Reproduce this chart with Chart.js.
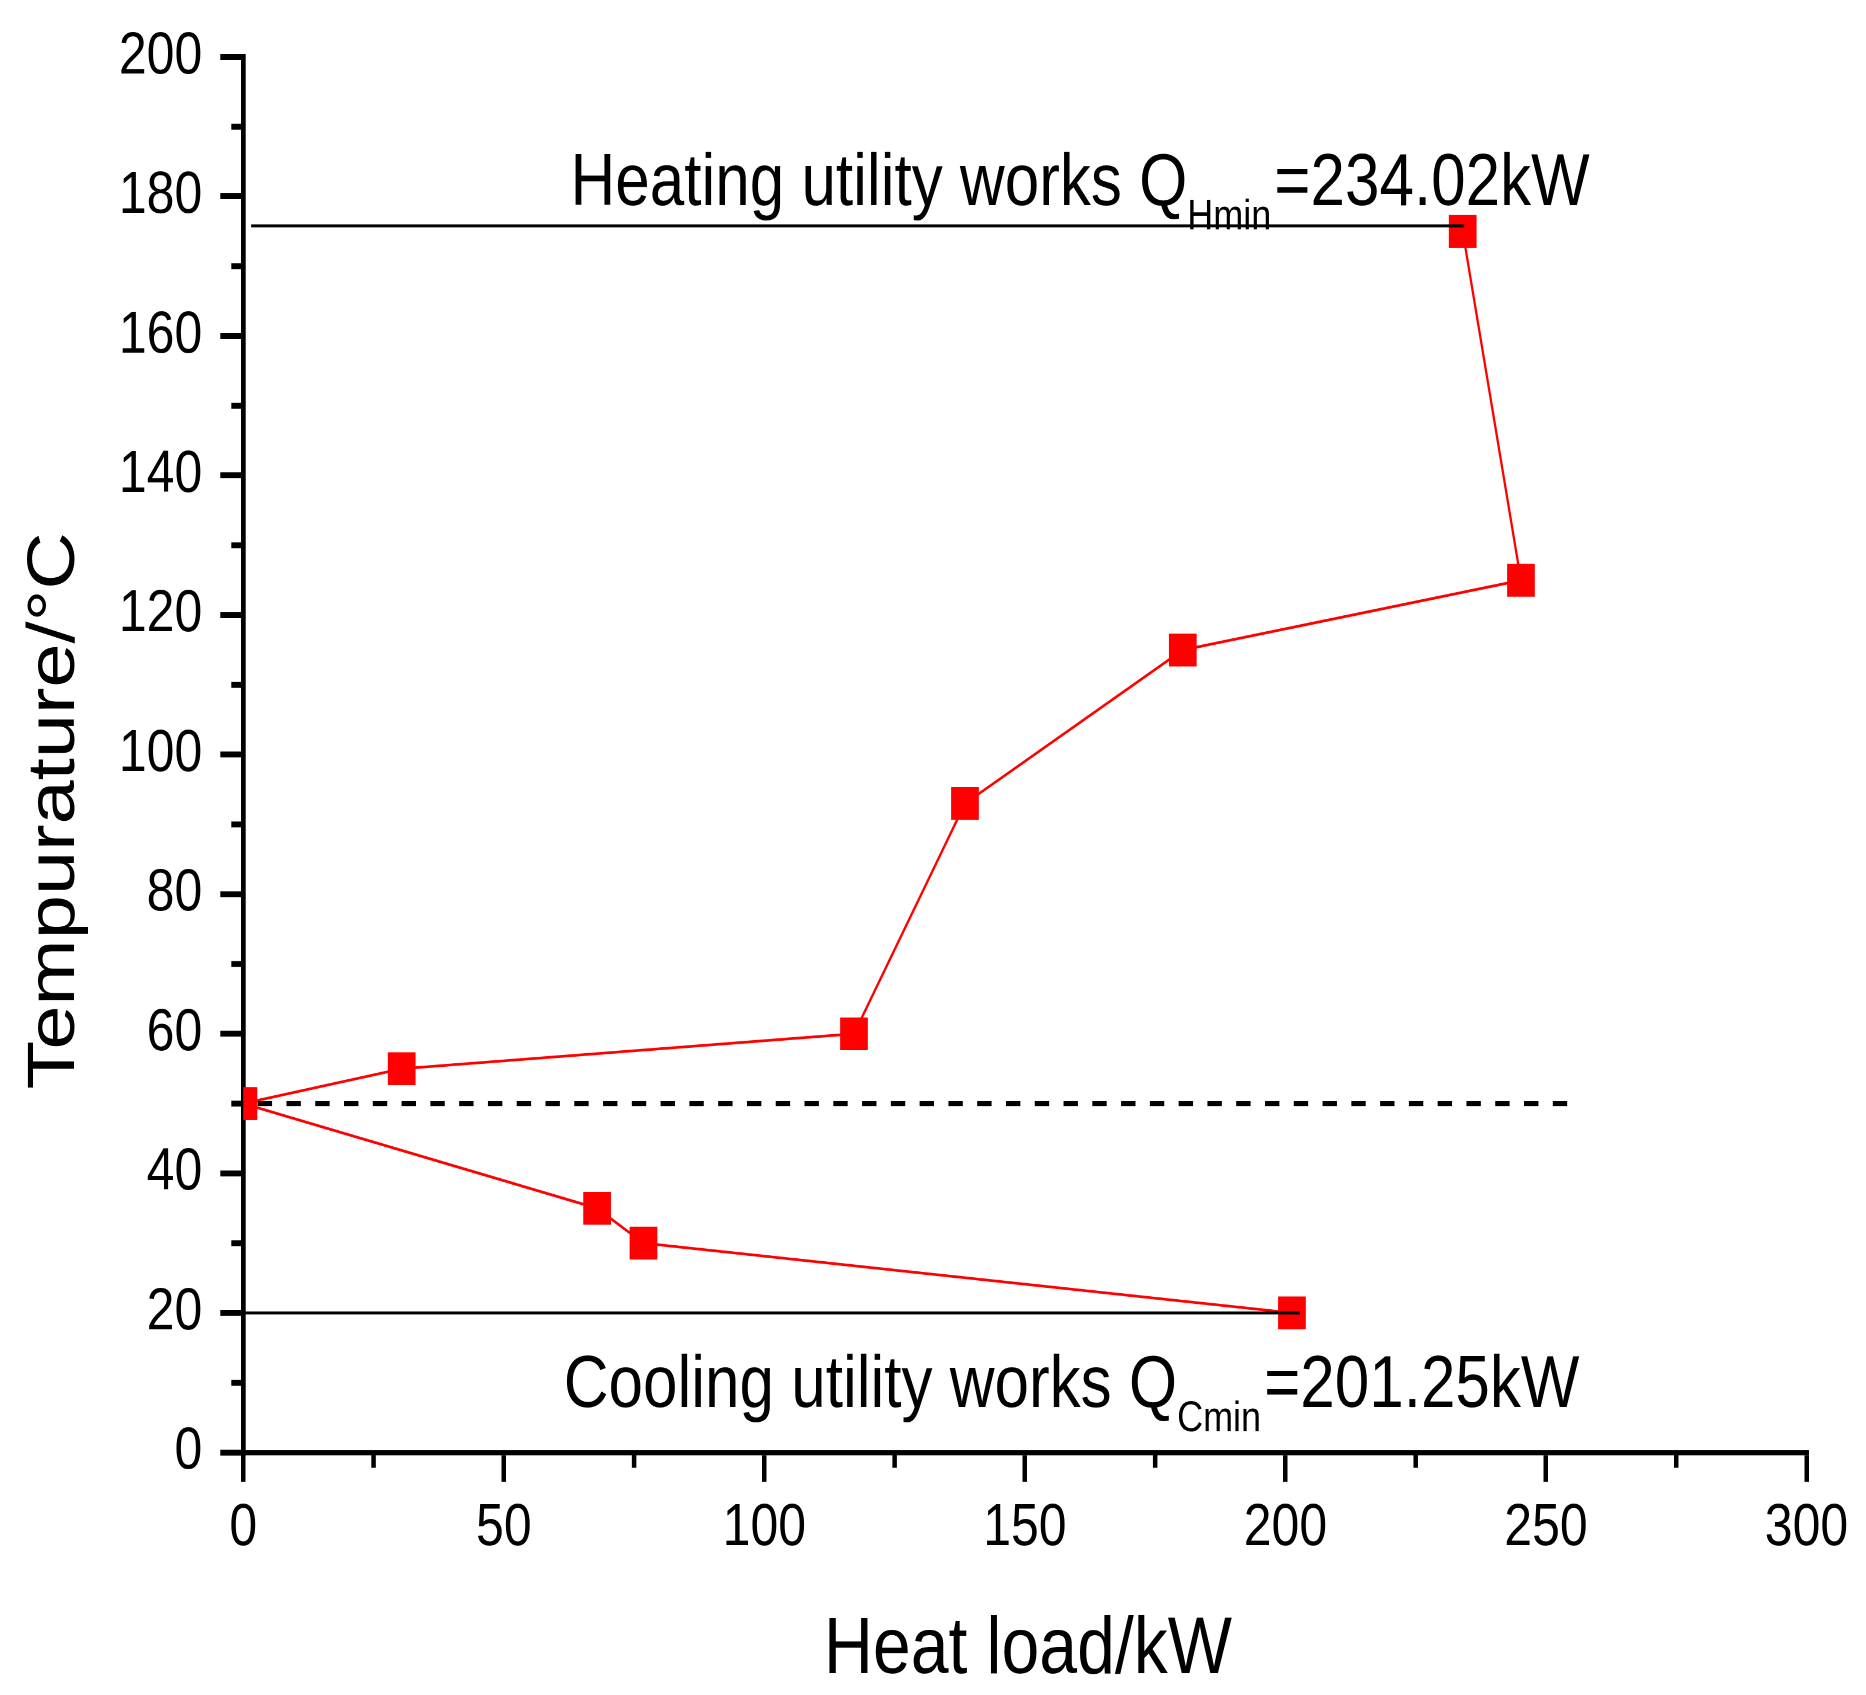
<!DOCTYPE html>
<html>
<head>
<meta charset="utf-8">
<script src="https://cdn.jsdelivr.net/npm/chart.js@4.4.1/dist/chart.umd.min.js"></script>
<style>
  html, body { margin:0; padding:0; background:#fff; }
  #wrap { position:absolute; left:0; top:0; width:1866px; height:1430px;
          transform:scaleY(1.185315); transform-origin:0 0; }
</style>
</head>
<body>
<div id="wrap"><canvas id="c"></canvas></div>
<script>
// ---- data ----
const hotX  = [0, 30.4, 117.2, 138.5, 180.3, 245.2, 234.02];
const hotT  = [50, 55, 60, 93, 115, 125, 175];
const coldX = [0, 67.9, 76.8, 201.25];
const coldT = [50, 35, 30, 20];
const heatLineX = [1.5, 234.3];
const heatLineT = [175.8, 175.8];
const coolLineX = [0, 202.8];
const coolLineT = [20, 20];
const pinchX = [0, 254.2];
const pinchT = [50, 50];
const xTickStep = 50, xMin = 0, xMax = 300;
const yTickStep = 20, yMin = 0, yMax = 200;
const xMinorTicks = [25, 75, 125, 175, 225, 275];
const yMinorTicks = [10, 30, 50, 70, 90, 110, 130, 150, 170, 190];
const heatLabel = ['Heating utility works Q', 'Hmin', '=234.02kW'];
const coolLabel = ['Cooling utility works Q', 'Cmin', '=201.25kW'];
const heatLabelPos = [62.8, 178.8];
const coolLabelPos = [61.5, 6.55];
const xTitle = 'Heat load/kW';
const yTitle = 'Tempurature/°C';

const FONT = "'Liberation Sans', Arial, sans-serif";
const pts = (xs, ys) => xs.map((v, i) => ({x: v, y: ys[i]}));

const extras = {
  id: 'extras',
  afterDraw(chart) {
    const {ctx, chartArea: a, scales: {x, y}} = chart;
    ctx.save();
    ctx.strokeStyle = '#000';
    ctx.lineCap = 'butt';
    // minor ticks
    ctx.lineWidth = 5;
    yMinorTicks.forEach(v => {
      const py = y.getPixelForValue(v);
      ctx.beginPath(); ctx.moveTo(a.left, py); ctx.lineTo(a.left - 12, py); ctx.stroke();
    });
    ctx.lineWidth = 4.5;
    xMinorTicks.forEach(v => {
      const px = x.getPixelForValue(v);
      ctx.beginPath(); ctx.moveTo(px, a.bottom); ctx.lineTo(px, a.bottom + 12.9); ctx.stroke();
    });
    // annotations
    ctx.fillStyle = '#000';
    ctx.textAlign = 'left';
    ctx.textBaseline = 'alphabetic';
    const drawSub = (parts, pos) => {
      const x0 = x.getPixelForValue(pos[0]);
      const yb = y.getPixelForValue(pos[1]);
      ctx.font = '62px ' + FONT;
      ctx.fillText(parts[0], x0, yb);
      let w = ctx.measureText(parts[0]).width;
      ctx.font = '36px ' + FONT;
      ctx.fillText(parts[1], x0 + w, yb + 20.5);
      w += ctx.measureText(parts[1]).width + 3;
      ctx.font = '62px ' + FONT;
      ctx.fillText(parts[2], x0 + w, yb);
    };
    drawSub(heatLabel, heatLabelPos);
    drawSub(coolLabel, coolLabelPos);
    // axis titles
    ctx.font = '68px ' + FONT;
    ctx.textAlign = 'center';
    ctx.fillText(xTitle, (a.left + a.right) / 2 + 3, a.bottom + 186.3);
    ctx.save();
    ctx.translate(74, 684);
    ctx.rotate(-Math.PI / 2);
    ctx.font = '67px ' + FONT;
    ctx.fillText(yTitle, 0, 0);
    ctx.restore();
    ctx.restore();
  }
};

new Chart(document.getElementById('c'), {
  type: 'scatter',
  data: {
    datasets: [
      { data: pts(pinchX, pinchT), showLine: true, borderColor: '#000', borderWidth: 4.2,
        borderDash: [14.39, 14.39], borderDashOffset: 14.39, pointRadius: 0, order: 1, clip: 0 },
      { data: pts(heatLineX, heatLineT), showLine: true, borderColor: '#000', borderWidth: 2.5,
        pointRadius: 0, order: 1, clip: 0 },
      { data: pts(coolLineX, coolLineT), showLine: true, borderColor: '#000', borderWidth: 2.5,
        pointRadius: 0, order: 1, clip: 0 },
      { data: pts(hotX, hotT), showLine: true, borderColor: '#ff0000', borderWidth: 2.3,
        pointStyle: 'rect', pointRadius: 19.6, pointBackgroundColor: '#ff0000',
        pointBorderWidth: 0, order: 2, clip: 0 },
      { data: pts(coldX, coldT), showLine: true, borderColor: '#ff0000', borderWidth: 2.3,
        pointStyle: 'rect', pointRadius: 19.6, pointBackgroundColor: '#ff0000',
        pointBorderWidth: 0, order: 2, clip: 0 }
    ]
  },
  options: {
    responsive: true,
    maintainAspectRatio: false,
    devicePixelRatio: 2,
    animation: false,
    events: [],
    layout: { padding: { left: 0, top: 44, right: 59.5, bottom: 0 } },
    plugins: { legend: { display: false }, tooltip: { enabled: false } },
    scales: {
      x: {
        type: 'linear', min: xMin, max: xMax,
        afterFit(s) { s.height = 204.6; },
        ticks: { stepSize: xTickStep, color: '#000', padding: 9.3,
                 font: { family: FONT, size: 50 }, maxRotation: 0 },
        grid: { display: true, drawOnChartArea: false, drawTicks: true, tickLength: 24.8,
                lineWidth: 4.5, color: '#000' },
        border: { display: true, width: 4.2, color: '#000' }
      },
      y: {
        type: 'linear', min: yMin, max: yMax,
        afterFit(s) { s.width = 243.3; },
        ticks: { stepSize: yTickStep, color: '#000', padding: 18,
                 font: { family: FONT, size: 50 } },
        grid: { display: true, drawOnChartArea: false, drawTicks: true, tickLength: 23,
                lineWidth: 5, color: '#000' },
        border: { display: true, width: 4.7, color: '#000' }
      }
    }
  },
  plugins: [extras]
});
</script>
</body>
</html>
